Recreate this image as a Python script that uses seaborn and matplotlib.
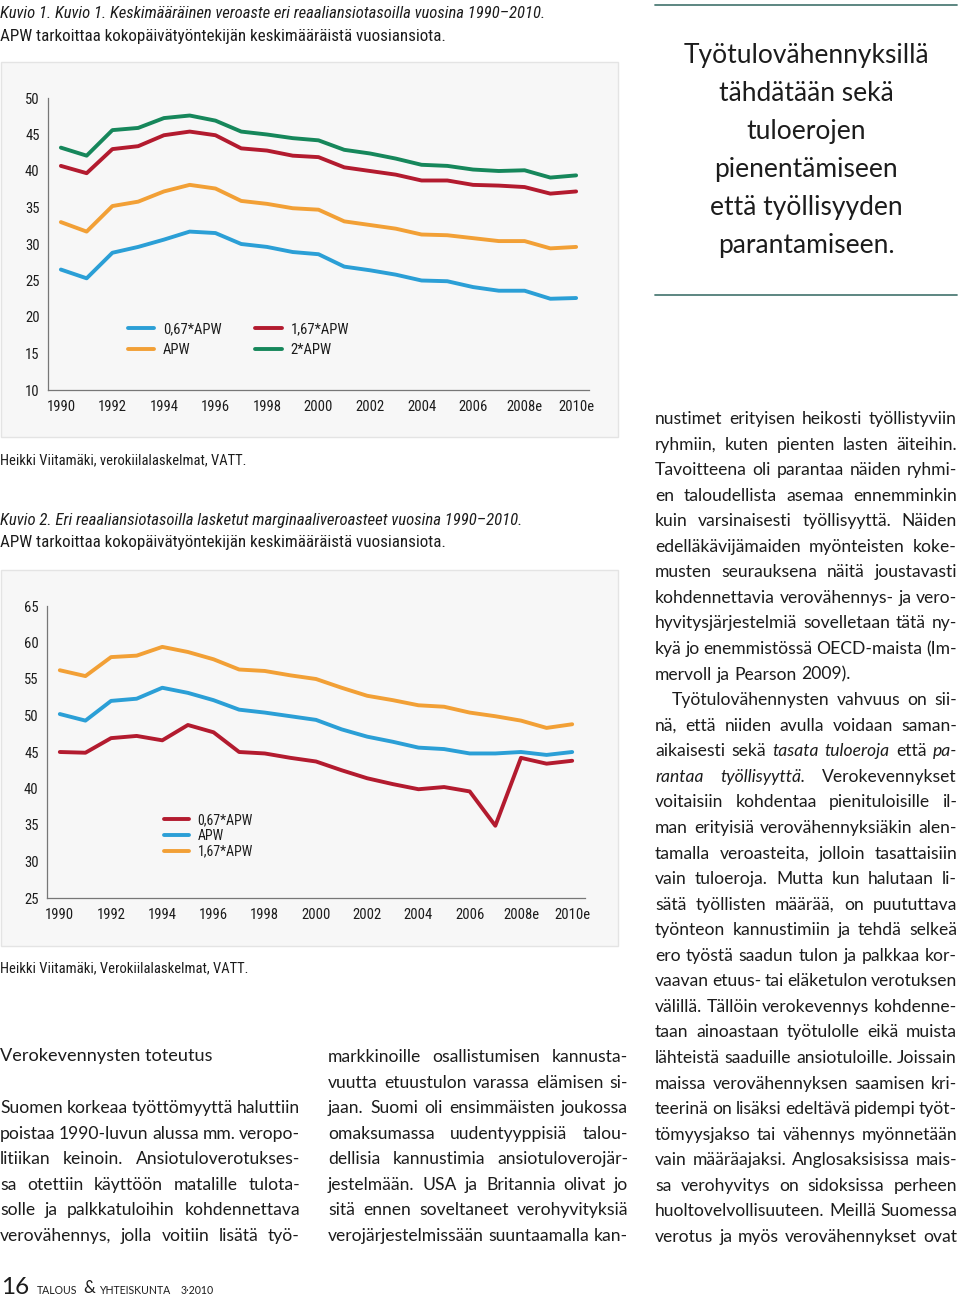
import matplotlib
matplotlib.use("Agg")
import matplotlib.pyplot as plt
import seaborn as sns
import pandas as pd
from matplotlib import font_manager
from matplotlib.transforms import IdentityTransform
from matplotlib.patches import Rectangle
from matplotlib.lines import Line2D

sns.set_theme(style="white")

fonts = font_manager.fontManager.ttflist
names = {f.name for f in fonts}
BODY = "Lato" if "Lato" in names else "DejaVu Sans"
NARROW, STRETCH = "DejaVu Sans", "normal"
for cand in ["Liberation Sans Narrow", "Roboto Condensed", "Open Sans Condensed", "Noto Sans", "DejaVu Sans"]:
    if any(f.name == cand and f.stretch in ("condensed", "semi-condensed", 300, 400) for f in fonts):
        NARROW, STRETCH = cand, "condensed"
        break
    if cand in names and "Narrow" in cand:
        NARROW = cand
        break
plt.rcParams["font.family"] = [BODY, "DejaVu Sans"]

# ---- data ----
years = ["1990", "1991", "1992", "1993", "1994", "1995", "1996", "1997", "1998", "1999",
         "2000", "2001", "2002", "2003", "2004", "2005", "2006", "2007", "2008e", "2009e", "2010e"]

# Kuvio 1: keskimääräinen veroaste
avg_067 = [26.5, 25.3, 28.8, 29.6, 30.6, 31.7, 31.5, 30.0, 29.6, 28.9, 28.6,
           26.9, 26.4, 25.8, 25.0, 24.9, 24.1, 23.6, 23.6, 22.5, 22.6]
avg_100 = [33.0, 31.7, 35.2, 35.8, 37.2, 38.1, 37.6, 35.9, 35.5, 34.9, 34.7,
           33.1, 32.6, 32.1, 31.3, 31.2, 30.8, 30.4, 30.4, 29.4, 29.6]
avg_167 = [40.7, 39.7, 43.0, 43.4, 44.9, 45.4, 44.9, 43.1, 42.8, 42.1, 41.9,
           40.5, 40.0, 39.5, 38.7, 38.7, 38.1, 38.0, 37.8, 36.9, 37.2]
avg_200 = [43.2, 42.1, 45.6, 45.9, 47.25, 47.6, 46.9, 45.4, 45.0, 44.5, 44.2,
           42.9, 42.4, 41.7, 40.85, 40.7, 40.2, 40.0, 40.1, 39.1, 39.4]

# Kuvio 2: marginaaliveroasteet
marg_067 = [45.0, 44.9, 46.9, 47.2, 46.6, 48.7, 47.7, 45.0, 44.8, 44.2, 43.7,
            42.5, 41.4, 40.6, 39.9, 40.2, 39.6, 34.9, 44.2, 43.4, 43.8]
marg_100 = [50.2, 49.3, 52.0, 52.3, 53.8, 53.1, 52.1, 50.8, 50.4, 49.9, 49.4,
            48.1, 47.1, 46.4, 45.6, 45.4, 44.8, 44.8, 45.0, 44.6, 45.0]
marg_167 = [56.2, 55.4, 58.0, 58.2, 59.4, 58.7, 57.7, 56.3, 56.1, 55.5, 55.0,
            53.8, 52.7, 52.1, 51.4, 51.2, 50.4, 49.9, 49.3, 48.3, 48.8]

BLUE, RED, ORANGE, GREEN = "#2b9fd6", "#b31b2f", "#f2a036", "#16875b"

W, H = 960, 1299
fig = plt.figure(figsize=(W / 100, H / 100), dpi=100)
fig.patch.set_facecolor("white")
ID = IdentityTransform()
TXT = "#1c1c1c"
renderer = fig.canvas.get_renderer()


def txt(x, y, s, size, family=None, style="normal", ha="left", color=TXT, stretch="normal", **kw):
    return fig.text(x, H - y, s, transform=ID, fontsize=size, fontstyle=style,
                    ha=ha, va="center", color=color, fontstretch=stretch,
                    family=[family or BODY, "DejaVu Sans"], **kw)


def width(t):
    return t.get_window_extent(renderer).width


def fit(x, y, s, target, style="normal", family=None, stretch="normal", base=11):
    t = txt(x, y, s, base, family, style, stretch=stretch)
    t.set_fontsize(base * target / width(t))
    return t


def split_words(line):
    out = []
    for w in line.split():
        if w.startswith("*") and w.endswith("*"):
            out.append((w.strip("*"), "italic"))
        else:
            out.append((w, "normal"))
    return out


def words_width(line, size):
    ws = [txt(0, 0, w, size, style=st) for w, st in split_words(line)]
    total = sum(width(o) for o in ws)
    for o in ws:
        o.remove()
    return total, len(ws)


def line_of_words(line, x0, x1, y, size, justify=True):
    objs = [txt(0, y, w, size, style=st) for w, st in split_words(line)]
    widths = [width(o) for o in objs]
    a1 = txt(0, y, "a a", size)
    a2 = txt(0, y, "aa", size)
    space = width(a1) - width(a2)
    a1.remove()
    a2.remove()
    if justify and len(objs) > 1:
        gap = (x1 - x0 - sum(widths)) / (len(objs) - 1)
    else:
        gap = space
    x = x0
    for o, wd in zip(objs, widths):
        o.set_x(x)
        x += wd + gap


def column(lines, x0, x1, y0, step, size, no_justify=()):
    for i, ln in enumerate(lines):
        indent = 0
        if ln.startswith(">"):
            ln = ln[1:]
            indent = 17
        line_of_words(ln, x0 + indent, x1, y0 + i * step, size, justify=i not in no_justify)


# ---- panels ----
for top, bottom in [(62, 437), (570, 946)]:
    fig.patches.append(Rectangle((1, H - bottom), 617, bottom - top, transform=ID, zorder=-10,
                                 facecolor="#f7f7f7", edgecolor="#e4e4e4", lw=1))


def make_axes(l, r, t, b):
    ax = fig.add_axes([l / W, (H - b) / H, (r - l) / W, (b - t) / H])
    ax.set_facecolor("none")
    ax.set_zorder(2)
    return ax


TICK_SIZE = 10.5 if STRETCH == "condensed" else 9.6


def style_axes(ax, ymin, ymax):
    ax.set_xlim(-0.5, len(years) - 0.5)
    ax.set_ylim(ymin, ymax)
    ax.set_yticks(range(ymin, ymax + 1, 5))
    ax.set_xticks(range(0, len(years), 2))
    ax.set_xticklabels([years[i] for i in range(0, len(years), 2)])
    ax.set_xticks([i - 0.5 for i in range(len(years) + 1)], minor=True)
    ax.tick_params(axis="x", which="major", length=0, pad=7, labelsize=TICK_SIZE, labelcolor=TXT)
    ax.tick_params(axis="x", which="minor", length=3, direction="in", color="#777777", width=0.8)
    ax.tick_params(axis="y", length=3, direction="in", color="#777777", width=0.8,
                   pad=6, labelsize=TICK_SIZE, labelcolor=TXT)
    for lab in ax.get_xticklabels() + ax.get_yticklabels():
        lab.set_family([NARROW, "DejaVu Sans"])
        lab.set_fontstretch(STRETCH)
    for s in ["top", "right"]:
        ax.spines[s].set_visible(False)
    for s in ["left", "bottom"]:
        ax.spines[s].set_color("#777777")
        ax.spines[s].set_linewidth(0.9)
    ax.set_xlabel("")
    ax.set_ylabel("")
    ax.grid(False)


LEG = {"family": NARROW, "stretch": STRETCH, "size": TICK_SIZE}

# Kuvio 1
ax1 = make_axes(48, 589, 98, 390)
order1 = ["0,67*APW", "APW", "1,67*APW", "2*APW"]
df1 = pd.DataFrame({"i": list(range(len(years))) * 4,
                    "v": avg_067 + avg_100 + avg_167 + avg_200,
                    "s": sum([[k] * len(years) for k in order1], [])})
sns.lineplot(data=df1, x="i", y="v", hue="s", hue_order=order1,
             palette=[BLUE, ORANGE, RED, GREEN], linewidth=2.8, ax=ax1, legend=False)
style_axes(ax1, 10, 50)
h1 = [Line2D([], [], color=c, lw=2.8) for c in [BLUE, ORANGE, RED, GREEN]]
leg1 = ax1.legend(h1, order1, ncol=2, frameon=False, loc="upper left",
                  bbox_to_anchor=(0.124, 0.276), handlelength=1.8, handletextpad=0.6,
                  columnspacing=2.3, labelspacing=0.45, prop=LEG)
for t in leg1.get_texts():
    t.set_color(TXT)

# Kuvio 2
ax2 = make_axes(47, 585, 606, 898)
order2 = ["0,67*APW", "APW", "1,67*APW"]
df2 = pd.DataFrame({"i": list(range(len(years))) * 3,
                    "v": marg_067 + marg_100 + marg_167,
                    "s": sum([[k] * len(years) for k in order2], [])})
sns.lineplot(data=df2, x="i", y="v", hue="s", hue_order=order2,
             palette=[RED, BLUE, ORANGE], linewidth=2.8, ax=ax2, legend=False)
style_axes(ax2, 25, 65)
h2 = [Line2D([], [], color=c, lw=2.8) for c in [RED, BLUE, ORANGE]]
leg2 = ax2.legend(h2, order2, frameon=False, loc="upper left",
                  bbox_to_anchor=(0.195, 0.333), handlelength=1.8, handletextpad=0.6,
                  labelspacing=0.12, prop=dict(LEG, size=TICK_SIZE - 0.5))
for t in leg2.get_texts():
    t.set_color(TXT)

# ---- captions ----
fit(0, 14, "Kuvio 1. Kuvio 1. Keskimääräinen veroaste eri reaaliansiotasoilla vuosina 1990–2010.",
    542, "italic", NARROW, STRETCH)
fit(0, 36, "APW tarkoittaa kokopäivätyöntekijän keskimääräistä vuosiansiota.", 445, "normal", NARROW, STRETCH)
fit(0, 460, "Heikki Viitamäki, verokiilalaskelmat, VATT.", 245, "normal", NARROW, STRETCH)
fit(0, 520, "Kuvio 2. Eri reaaliansiotasoilla lasketut marginaaliveroasteet vuosina 1990–2010.",
    520, "italic", NARROW, STRETCH)
fit(0, 543, "APW tarkoittaa kokopäivätyöntekijän keskimääräistä vuosiansiota.", 445, "normal", NARROW, STRETCH)
fit(0, 968, "Heikki Viitamäki, Verokiilalaskelmat, VATT.", 247, "normal", NARROW, STRETCH)

# ---- pull quote ----
for yy in (5, 295):
    fig.lines.append(Line2D([655, 957], [H - yy, H - yy], transform=ID, color="#4f7d77", lw=1.3))
quote = ["Työtulovähennyksillä", "tähdätään sekä", "tuloerojen",
         "pienentämiseen", "että työllisyyden", "parantamiseen."]
for i, q in enumerate(quote):
    txt(806, 56 + i * 37.8, q, 19, ha="center")

# ---- body text ----
right_col = [
    "nustimet erityisen heikosti työllistyviin",
    "ryhmiin, kuten pienten lasten äiteihin.",
    "Tavoitteena oli parantaa näiden ryhmi-",
    "en taloudellista asemaa ennemminkin",
    "kuin varsinaisesti työllisyyttä. Näiden",
    "edelläkävijämaiden myönteisten koke-",
    "musten seurauksena näitä joustavasti",
    "kohdennettavia verovähennys- ja vero-",
    "hyvitysjärjestelmiä sovelletaan tätä ny-",
    "kyä jo enemmistössä OECD-maista (Im-",
    "mervoll ja Pearson 2009).",
    ">Työtulovähennysten vahvuus on sii-",
    "nä, että niiden avulla voidaan saman-",
    "aikaisesti sekä *tasata* *tuloeroja* että *pa-*",
    "*rantaa* *työllisyyttä.* Verokevennykset",
    "voitaisiin kohdentaa pienituloisille il-",
    "man erityisiä verovähennyksiäkin alen-",
    "tamalla veroasteita, jolloin tasattaisiin",
    "vain tuloeroja. Mutta kun halutaan li-",
    "sätä työllisten määrää, on puututtava",
    "työnteon kannustimiin ja tehdä selkeä",
    "ero työstä saadun tulon ja palkkaa kor-",
    "vaavan etuus- tai eläketulon verotuksen",
    "välillä. Tällöin verokevennys kohdenne-",
    "taan ainoastaan työtulolle eikä muista",
    "lähteistä saaduille ansiotuloille. Joissain",
    "maissa verovähennyksen saamisen kri-",
    "teerinä on lisäksi edeltävä pidempi työt-",
    "tömyysjakso tai vähennys myönnetään",
    "vain määräajaksi. Anglosaksisissa mais-",
    "sa verohyvitys on sidoksissa perheen",
    "huoltovelvollisuuteen. Meillä Suomessa",
    "verotus ja myös verovähennykset ovat",
]
mid_col = [
    "markkinoille osallistumisen kannusta-",
    "vuutta etuustulon varassa elämisen si-",
    "jaan. Suomi oli ensimmäisten joukossa",
    "omaksumassa uudentyyppisiä talou-",
    "dellisia kannustimia ansiotuloverojär-",
    "jestelmään. USA ja Britannia olivat jo",
    "sitä ennen soveltaneet verohyvityksiä",
    "verojärjestelmissään suuntaamalla kan-",
]
left_col = [
    "Suomen korkeaa työttömyyttä haluttiin",
    "poistaa 1990-luvun alussa mm. veropo-",
    "litiikan keinoin. Ansiotuloverotukses-",
    "sa otettiin käyttöön matalille tulota-",
    "solle ja palkkatuloihin kohdennettava",
    "verovähennys, jolla voitiin lisätä työ-",
]

# body size: largest size where every line keeps at least a 3.5 px word gap
scales = []
for ln in right_col + mid_col + left_col:
    ww, n = words_width(ln.lstrip(">"), 10)
    if n > 1:
        scales.append((302 - (n - 1) * 3.5) / ww)
BS = min(12.6, 10 * min(scales))

column(right_col, 655, 957, 419, 25.56, BS, no_justify=(10,))
column(mid_col, 328, 628, 1057, 25.56, BS)
txt(0, 1056, "Verokevennysten toteutus", 13.1)
column(left_col, 0, 300, 1108, 25.6, BS)

# ---- footer ----
txt(1, 1287, "16", 17.5)
txt(37, 1290, "TALOUS", 7.6)
txt(83, 1288, "&", 12)
txt(99, 1290, "YHTEISKUNTA", 7.6)
txt(181, 1290, "3·2010", 7.6)

fig.savefig("out.png", dpi=100, facecolor="white")
